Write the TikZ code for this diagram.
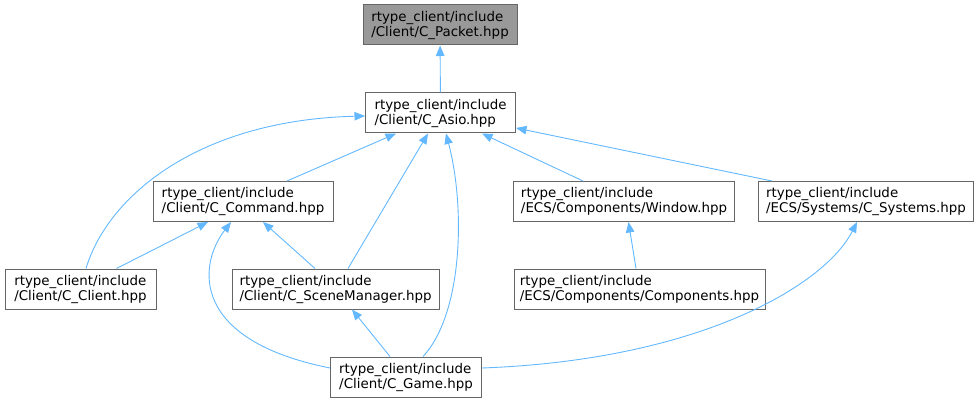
\documentclass[tikz,border=0pt]{standalone}
\usepackage{fontspec}
\setmainfont{DejaVu Sans}
\usetikzlibrary{arrows.meta}

\definecolor{edgeblue}{HTML}{63B8FF}
\definecolor{boxline}{HTML}{666666}
\definecolor{boxfill}{HTML}{999999}

\begin{document}
\begin{tikzpicture}[x=1pt, y=-1pt,
    box/.style={draw=boxline, line width=1pt, fill=white, align=left, minimum height=40pt, inner sep=2pt,
        font=\fontsize{13.4}{15}\selectfont},
    edge/.style={draw=edgeblue, line width=0.9pt, -{Triangle[length=10.5pt,width=8.5pt]}}]
    \useasboundingbox (0,0) rectangle (979,403);
    % Files
    \node[box, fill=boxfill, minimum width=154pt] (packet) at (440,25) {rtype\_client/include\\/Client/C\_Packet.hpp};
    \node[box, minimum width=150pt] (asio) at (440.5,113) {rtype\_client/include\\/Client/C\_Asio.hpp};
    \node[box, minimum width=180pt] (command) at (243,201.5) {rtype\_client/include\\/Client/C\_Command.hpp};
    \node[box, minimum width=221pt] (window) at (624,201.5) {rtype\_client/include\\/ECS/Components/Window.hpp};
    \node[box, minimum width=215pt] (systems) at (866,201.5) {rtype\_client/include\\/ECS/Systems/C\_Systems.hpp};
    \node[box, minimum width=151pt] (client) at (80.5,289) {rtype\_client/include\\/Client/C\_Client.hpp};
    \node[box, minimum width=207pt] (scene) at (335.5,289) {rtype\_client/include\\/Client/C\_SceneManager.hpp};
    \node[box, minimum width=251pt] (components) at (639.5,289) {rtype\_client/include\\/ECS/Components/Components.hpp};
    \node[box, minimum width=151pt] (game) at (406,377) {rtype\_client/include\\/Client/C\_Game.hpp};
    % Includes of C_Asio and C_Packet
    \draw[edge] (asio) -- (packet);
    \draw[edge] ([xshift=5.5pt]client.north) .. controls (108,195) and (200,120) .. ([yshift=-3pt]asio.west);
    \draw[edge] ([xshift=44pt]command.north) -- ([xshift=-44.5pt]asio.south);
    \draw[edge] ([xshift=12.5pt]scene.north) -- ([xshift=-12.5pt]asio.south);
    \draw[edge] ([xshift=17pt]game.north) .. controls (462,315) and (466,210) .. ([xshift=5.5pt]asio.south);
    \draw[edge] ([xshift=-41pt]window.north) -- ([xshift=41.5pt]asio.south);
    \draw[edge] ([xshift=-94pt]systems.north) -- ([yshift=-15pt]asio.east);
    % Includes of C_Command
    \draw[edge] ([xshift=36pt]client.north) -- ([xshift=-35pt]command.south);
    \draw[edge] ([xshift=-20.5pt]scene.north) -- ([xshift=20pt]command.south);
    \draw[edge] ([yshift=9pt]game.west) .. controls (190,340) and (198,265) .. ([xshift=-12pt]command.south);
    % Other includes
    \draw[edge] ([xshift=-16pt]game.north) -- ([xshift=16.5pt]scene.south);
    \draw[edge] ([xshift=-3.5pt]components.north) -- ([xshift=4.5pt]window.south);
    \draw[edge] ([yshift=9pt]game.east) .. controls (700,360) and (825,285) .. ([xshift=-9pt]systems.south);
\end{tikzpicture}
\end{document}
